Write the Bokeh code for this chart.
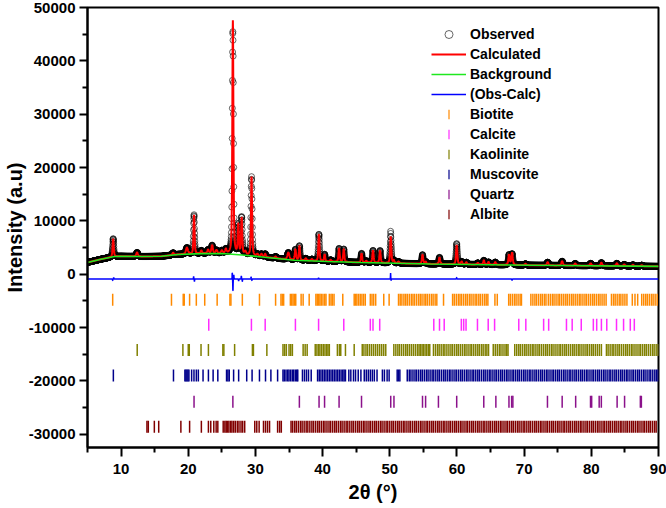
import numpy as np
from bokeh.plotting import figure
from bokeh.models import Range1d, FixedTicker, Legend, LegendItem, BoxAnnotation
from bokeh.embed import file_html
from bokeh.resources import INLINE

# ---- Rietveld refinement data: 2theta (deg) vs intensity (a.u.) ----
# Background anchor points
bg_pos = [5, 7, 9, 10, 13, 16, 18.5, 22, 25, 28, 31, 35.8, 40.7, 45.7, 56, 71, 90]
bg_val = [2200, 2800, 3300, 3350, 3300, 3350, 3700, 3850, 3870, 3600, 3230, 2620,
          2370, 2180, 1910, 1670, 1460]

# Reflections of the calculated profile: position, net height, FWHM
peak_pos = [8.82, 12.38, 17.75, 19.8, 20.86, 21.95, 22.95, 23.55, 24.2, 25.0, 25.6,
            26.64, 27.45, 27.95, 28.5, 29.42, 30.3, 30.9, 31.45, 33.0, 34.9, 35.95,
            36.55, 37.5, 38.4, 39.45, 40.3, 41.2, 42.45, 43.15, 45.8, 46.5, 47.5,
            48.55, 50.14, 50.6, 51.3, 54.87, 55.35, 57.4, 59.96, 60.7, 61.4, 63.1,
            64.0, 64.7, 65.7, 67.75, 68.2, 70.2, 73.5, 75.65, 77.6, 79.9, 81.5,
            83.8, 84.9, 86.2, 87.5]
peak_height = [3400, 750, 400, 1200, 7300, 550, 700, 1500, 600, 500, 800,
               43800, 5500, 6800, 600, 14800, 400, 500, 600, 300, 1300, 2000,
               2700, 400, 300, 5000, 1300, 300, 2500, 2400, 1700, 300, 2300,
               2300, 5000, 500, 300, 1700, 400, 1250, 3600, 500, 400, 300,
               800, 500, 500, 1900, 2300, 250, 600, 800, 400, 450, 600,
               500, 300, 250, 200]
peak_fwhm = [0.20, 0.32, 0.28, 0.35, 0.18, 0.28, 0.30, 0.26, 0.30, 0.30, 0.26,
             0.19, 0.20, 0.20, 0.30, 0.19, 0.30, 0.30, 0.26, 0.30, 0.35, 0.22,
             0.20, 0.30, 0.30, 0.20, 0.20, 0.30, 0.21, 0.21, 0.22, 0.30, 0.22,
             0.22, 0.21, 0.22, 0.30, 0.23, 0.22, 0.23, 0.22, 0.26, 0.26, 0.30,
             0.24, 0.26, 0.26, 0.24, 0.24, 0.30, 0.30, 0.30, 0.30, 0.30, 0.30,
             0.30, 0.30, 0.30, 0.30]

# Misfit (observed minus calculated) features: position, amplitude, width
res_pos = [8.75, 8.9, 20.8, 20.92, 26.55, 26.65, 26.78, 27.5, 27.9, 28.05,
           29.35, 29.47, 39.4, 50.12, 50.2, 59.95, 68.2]
res_amp = [-300, 300, 500, -500, 1300, -2400, 800, -400, 600, -500,
           400, -300, 250, 1100, -300, 300, -250]
res_wid = [0.06, 0.06, 0.05, 0.05, 0.04, 0.05, 0.05, 0.06, 0.06, 0.05,
           0.05, 0.05, 0.05, 0.04, 0.05, 0.05, 0.08]
diff_offset = -900

# Bragg reflection positions of each phase
biotite = [8.75, 17.5, 19.25, 19.4, 20.2, 21.2, 22.45, 24.3, 26.2, 26.35, 28.05, 30.6,
           33.0, 33.8, 34.0, 34.2, 35.2, 35.4, 35.6, 35.8, 36.0, 36.8, 37.1, 38.0, 39.0,
           39.2, 39.4, 39.6, 39.8, 40.05, 40.3, 40.5, 41.0, 41.25, 41.45, 41.7, 43.0,
           44.7, 44.9, 45.1, 45.35, 45.6, 45.85, 46.1, 46.35, 47.1, 47.35, 47.6, 47.9,
           49.1, 49.9, 51.3, 51.55, 51.8, 52.1, 52.35, 52.6, 52.9, 53.2, 53.45, 53.7,
           54.0, 54.3, 54.55, 54.8, 55.1, 55.35, 55.6, 55.9, 56.2, 56.45, 56.75, 57.0,
           58.0, 59.35, 59.6, 59.9, 60.2, 60.45, 60.7, 61.0, 61.3, 61.55, 61.85, 62.1,
           62.4, 62.7, 62.95, 63.25, 63.5, 63.8, 64.1, 64.35, 64.6, 65.65, 66.0, 67.7,
           67.95, 68.25, 68.55, 68.8, 69.1, 69.4, 69.6, 71.0, 71.3, 71.6, 71.85, 72.15,
           72.45, 72.7, 73.0, 73.25, 73.6, 73.9, 74.2, 74.45, 74.75, 75.05, 75.3, 75.6,
           75.9, 76.2, 76.45, 76.75, 77.05, 77.3, 77.6, 77.9, 78.2, 78.45, 78.75, 79.05,
           79.3, 79.6, 79.9, 80.2, 80.45, 80.75, 81.05, 81.3, 81.6, 81.9, 82.2, 83.0,
           83.3, 83.55, 83.85, 84.15, 84.4, 84.7, 85.0, 85.3, 86.1, 86.5, 86.9, 87.5,
           87.8, 88.1, 88.35, 88.65, 88.95, 89.2, 89.5, 89.8]
calcite = [23.05, 29.4, 31.45, 35.95, 39.4, 43.15, 47.1, 47.5, 48.5, 56.55, 57.4, 58.1,
           60.65, 61.0, 61.35, 63.05, 64.65, 65.6, 69.2, 70.25, 72.9, 73.65, 76.3,
           77.15, 78.5, 80.3, 80.8, 81.5, 82.3, 83.75, 84.8, 85.8, 86.4]
kaolinite = [12.4, 19.2, 20.0, 20.15, 21.9, 23.0, 25.15, 25.3, 26.9, 29.55, 29.7, 31.7,
             34.1, 34.35, 34.6, 35.0, 35.25, 35.5, 37.1, 37.4, 37.7, 38.9, 39.15, 39.4,
             39.6, 39.85, 40.1, 40.35, 40.6, 40.8, 41.0, 42.2, 42.5, 42.7, 43.4, 44.7,
             45.9, 46.15, 46.45, 46.7, 47.0, 47.3, 47.6, 47.9, 48.2, 48.5, 48.8, 49.1,
             49.4, 50.6, 50.9, 51.2, 51.45, 51.75, 52.05, 52.35, 52.6, 52.9, 53.2, 53.5,
             53.8, 54.1, 54.35, 54.55, 54.8, 55.0, 55.25, 55.5, 55.75, 55.95, 56.5, 56.8,
             57.1, 57.35, 57.65, 57.95, 58.2, 58.5, 58.8, 59.1, 59.35, 59.65, 59.95, 60.2,
             60.5, 60.8, 61.1, 61.35, 61.65, 61.95, 62.2, 62.5, 62.8, 63.1, 63.35, 63.65,
             63.9, 64.2, 64.45, 64.7, 65.4, 65.7, 66.0, 66.3, 66.55, 66.85, 67.15, 67.4,
             67.6, 68.6, 68.9, 69.2, 69.45, 69.75, 70.05, 70.3, 70.6, 70.9, 71.2, 71.45,
             71.75, 72.05, 72.3, 72.6, 72.9, 73.2, 73.45, 73.75, 74.05, 74.3, 74.6, 74.9,
             75.2, 75.45, 75.75, 76.05, 76.3, 76.6, 76.9, 77.2, 77.45, 77.75, 78.05, 78.3,
             78.6, 78.9, 79.2, 79.45, 79.75, 80.05, 80.3, 80.6, 80.9, 81.2, 81.5, 82.25,
             82.5, 82.8, 83.1, 83.35, 83.65, 83.95, 84.2, 84.5, 84.8, 85.1, 85.35, 85.65,
             85.95, 86.2, 86.5, 86.8, 87.1, 87.35, 87.65, 87.95, 88.2, 88.5, 88.8, 89.1,
             89.35, 89.65, 89.95]
muscovite = [8.85, 17.8, 19.5, 19.65, 19.8, 19.95, 20.1, 20.5, 20.85, 21.2, 21.5, 22.2,
             23.0, 23.7, 24.4, 25.7, 25.9, 26.1, 26.75, 27.5, 28.7, 29.5, 30.6, 31.5,
             32.3, 33.3, 34.1, 34.3, 34.55, 34.8, 35.0, 35.25, 35.5, 35.7, 35.95, 36.15,
             36.3, 37.0, 37.3, 37.6, 37.9, 38.3, 39.25, 39.5, 39.75, 40.0, 40.25, 40.5,
             40.75, 41.0, 41.25, 41.5, 41.75, 42.0, 42.25, 42.5, 42.75, 43.0, 43.2, 43.4,
             43.9, 44.2, 44.6, 44.9, 45.3, 45.7, 46.2, 46.5, 46.8, 47.1, 47.4, 47.7, 48.1,
             48.9, 49.2, 49.6, 49.9, 51.1, 51.3, 51.5, 52.6, 52.9, 53.15, 53.45, 53.75,
             54.0, 54.3, 54.6, 54.85, 55.15, 55.45, 55.7, 56.0, 56.3, 56.55, 56.85, 57.15,
             57.4, 57.7, 58.0, 58.25, 58.55, 58.85, 59.1, 59.4, 59.7, 59.95, 60.25, 60.55,
             60.8, 61.1, 61.4, 61.65, 61.95, 62.25, 62.5, 62.8, 63.1, 63.35, 63.65, 63.95,
             64.2, 64.5, 64.8, 65.05, 65.35, 65.65, 65.9, 66.2, 66.5, 66.75, 67.05, 67.35,
             67.6, 67.9, 68.2, 68.45, 68.75, 69.05, 69.3, 69.6, 69.9, 70.15, 70.45, 70.75,
             71.0, 71.3, 71.6, 71.85, 72.15, 72.45, 72.7, 73.0, 73.3, 73.55, 73.85, 74.15,
             74.4, 74.7, 75.0, 75.25, 75.55, 75.85, 76.1, 76.4, 76.7, 76.95, 77.25, 77.55,
             77.8, 78.1, 78.4, 78.65, 78.95, 79.25, 79.5, 79.8, 80.1, 80.35, 80.65, 80.95,
             81.2, 81.5, 81.8, 82.05, 82.35, 82.65, 82.9, 83.2, 83.5, 83.75, 84.05, 84.35,
             84.6, 84.9, 85.2, 85.45, 85.75, 86.05, 86.3, 86.6, 86.9, 87.15, 87.45, 87.75,
             88.0, 88.3, 88.6, 88.85, 89.15, 89.45, 89.7, 89.95]
quartz = [20.86, 26.64, 36.54, 39.47, 40.29, 42.45, 45.79, 50.14, 50.62, 54.87, 55.33,
          57.24, 59.96, 63.99, 65.79, 67.74, 68.14, 68.32, 73.47, 75.66, 77.67, 79.88,
          80.05, 81.17, 81.49, 83.84, 84.95, 87.3, 87.45]
albite = [13.85, 14.05, 14.95, 15.6, 18.9, 20.2, 21.95, 23.0, 23.35, 23.8, 24.15, 24.4,
          25.2, 25.45, 25.65, 25.85, 26.05, 26.3, 26.5, 26.75, 27.0, 27.3, 27.55, 27.85,
          28.1, 28.4, 29.9, 30.2, 30.55, 31.2, 31.5, 31.8, 32.1, 33.3, 33.6, 33.85, 35.3,
          35.55, 35.85, 36.1, 36.4, 36.7, 36.95, 37.25, 37.55, 37.8, 38.1, 38.4, 38.65,
          38.95, 39.25, 39.5, 39.8, 40.1, 40.35, 40.65, 40.95, 41.2, 41.5, 41.8, 42.05,
          42.35, 42.65, 42.9, 43.2, 43.5, 43.75, 44.05, 44.35, 44.6, 44.9, 45.2, 45.45,
          45.75, 46.05, 46.3, 46.6, 46.9, 47.15, 47.45, 47.75, 48.0, 48.3, 48.6, 48.85,
          49.15, 49.45, 49.7, 50.0, 50.3, 50.55, 50.85, 51.15, 51.4, 51.7, 52.0, 52.25,
          52.55, 52.85, 53.1, 53.4, 53.7, 53.95, 54.25, 54.55, 54.8, 55.1, 55.4, 55.65,
          55.95, 56.25, 56.5, 56.8, 57.1, 57.35, 57.65, 57.95, 58.2, 58.5, 58.8, 59.05,
          59.35, 59.65, 59.9, 60.2, 60.5, 60.75, 61.05, 61.35, 61.6, 61.9, 62.2, 62.45,
          62.75, 63.05, 63.3, 63.6, 63.9, 64.15, 64.45, 64.75, 65.0, 65.3, 65.6, 65.85,
          66.15, 66.45, 66.7, 67.0, 67.3, 67.55, 67.85, 68.15, 68.4, 68.7, 69.0, 69.25,
          69.55, 69.85, 70.1, 70.4, 70.7, 70.95, 71.25, 71.55, 71.8, 72.1, 72.4, 72.65,
          72.95, 73.25, 73.5, 73.8, 74.1, 74.35, 74.65, 74.95, 75.2, 75.5, 75.8, 76.05,
          76.35, 76.65, 76.9, 77.2, 77.5, 77.75, 78.05, 78.35, 78.6, 78.9, 79.2, 79.45,
          79.75, 80.05, 80.3, 80.6, 80.9, 81.15, 81.45, 81.75, 82.0, 82.3, 82.6, 82.85,
          83.15, 83.45, 83.7, 84.0, 84.3, 84.55, 84.85, 85.15, 85.4, 85.7, 86.0, 86.25,
          86.55, 86.85, 87.1, 87.4, 87.7, 87.95, 88.25, 88.55, 88.8, 89.1, 89.4, 89.65]

phase_names = ["Biotite", "Calcite", "Kaolinite", "Muscovite", "Quartz", "Albite"]
phase_lists = [biotite, calcite, kaolinite, muscovite, quartz, albite]
phase_rows = [-4800, -9500, -14200, -19000, -23900, -28600]
phase_colors = ["#ff8a00", "#ff2cff", "#808000", "#00008b", "#8b118b", "#800000"]

x_ticks = [10, 20, 30, 40, 50, 60, 70, 80, 90]
x_minor = [5, 15, 25, 35, 45, 55, 65, 75, 85]
y_ticks = [-30000, -20000, -10000, 0, 10000, 20000, 30000, 40000, 50000]
y_tick_labels = ["-30000", "-20000", "-10000", "0", "10000", "20000", "30000",
                 "40000", "50000"]
y_minor = [-25000, -15000, -5000, 5000, 15000, 25000, 35000, 45000]

# ---- profiles ----
tt = np.round(np.arange(5.0, 90.0 + 1e-9, 0.02), 2)


def pseudo_voigt(x, x0, h, w, eta=0.5):
    d = ((x - x0) / w) ** 2
    return h * (eta / (1.0 + 4.0 * d) + (1.0 - eta) * np.exp(-4.0 * np.log(2.0) * d))


background = np.interp(tt, bg_pos, bg_val)
calculated = background.copy()
for pos, h, w in zip(peak_pos, peak_height, peak_fwhm):
    calculated += pseudo_voigt(tt, pos, h, w)

residual = np.zeros_like(tt)
for pos, a, w in zip(res_pos, res_amp, res_wid):
    residual += a * np.exp(-4.0 * np.log(2.0) * ((tt - pos) / w) ** 2)

observed = calculated + residual
difference = observed - calculated + diff_offset

# ---- figure ----
FONT = "Liberation Sans"
p = figure(width=666, height=508, output_backend="svg", toolbar_location=None,
           x_range=Range1d(5, 90), y_range=Range1d(-32500, 50000),
           min_border_left=86, min_border_right=8, min_border_top=7,
           min_border_bottom=61)
p.xgrid.visible = False
p.ygrid.visible = False
p.outline_line_color = "black"
p.outline_line_width = 2
p.outline_line_alpha = 1.0
p.background_fill_color = "white"
p.border_fill_color = "white"

r_obs = p.scatter(tt, observed, marker="circle", size=6, fill_color=None,
                  line_color="black", line_width=0.8, line_alpha=0.75)
r_calc = p.line(tt, calculated, line_color="#ff0000", line_width=2)
r_bg = p.line(bg_pos, bg_val, line_color="#1fe81f", line_width=1.6)
r_diff = p.line(tt, difference, line_color="#0000ff", line_width=1.5)

for refl, row, col in zip(phase_lists, phase_rows, phase_colors):
    p.scatter(refl, [row] * len(refl), marker="dash", angle=np.pi / 2, size=12,
              line_color=col, line_width=1.5)

# axes
xa = p.xaxis[0]
ya = p.yaxis[0]
xa.ticker = FixedTicker(ticks=x_ticks, minor_ticks=x_minor)
ya.ticker = FixedTicker(ticks=y_ticks, minor_ticks=y_minor)
ya.major_label_overrides = {t: l for t, l in zip(y_ticks, y_tick_labels)}
xa.major_label_overrides = {t: str(t) for t in x_ticks}
for ax in (xa, ya):
    ax.axis_line_width = 2
    ax.axis_line_color = "black"
    ax.major_tick_line_width = 2
    ax.minor_tick_line_width = 2
    ax.major_tick_in = 0
    ax.minor_tick_in = 0
    ax.minor_tick_out = 5
    ax.major_label_text_font = FONT
    ax.major_label_text_font_style = "bold"
    ax.major_label_text_font_size = "15px"
    ax.major_label_text_color = "black"
    ax.axis_label_text_font = FONT
    ax.axis_label_text_font_style = "bold"
    ax.axis_label_text_font_size = "20px"
    ax.axis_label_text_color = "black"
xa.major_tick_out = 9
ya.major_tick_out = 8
xa.major_label_standoff = 7
ya.major_label_standoff = 4
xa.axis_label = "2θ (°)"
ya.axis_label = "Intensity (a.u)"
xa.axis_label_standoff = 4
ya.axis_label_standoff = 0

# legend: labels from a Legend, phase samples as short vertical bars
LEG_X, LEG_Y, ROW_H, GLYPH_W = 344, 223, 20, 35
blank = p.scatter([], [], marker="dash", line_alpha=0, fill_alpha=0)
items = [LegendItem(label="Observed", renderers=[r_obs]),
         LegendItem(label="Calculated", renderers=[r_calc]),
         LegendItem(label="Background", renderers=[r_bg]),
         LegendItem(label="(Obs-Calc)", renderers=[r_diff])]
for name in phase_names:
    items.append(LegendItem(label=name, renderers=[blank]))

legend = Legend(items=items, location=(LEG_X, LEG_Y), padding=0, margin=0, spacing=0,
                glyph_width=GLYPH_W, glyph_height=ROW_H, label_height=ROW_H,
                label_standoff=4, label_text_font=FONT, label_text_font_style="bold",
                label_text_font_size="14px", label_text_color="black",
                background_fill_alpha=0, border_line_alpha=0)
p.add_layout(legend)

top = LEG_Y + ROW_H * len(items)
cx = LEG_X + GLYPH_W / 2
for i, col in enumerate(phase_colors):
    cy = top - ROW_H * (4 + i) - ROW_H / 2
    p.add_layout(BoxAnnotation(left=cx - 0.75, right=cx + 0.75, bottom=cy - 4.7,
                               top=cy + 4.7, left_units="screen", right_units="screen",
                               bottom_units="screen", top_units="screen",
                               fill_color=col, fill_alpha=0.8, line_alpha=0))

open("out.html", "w").write(file_html(p, INLINE))
